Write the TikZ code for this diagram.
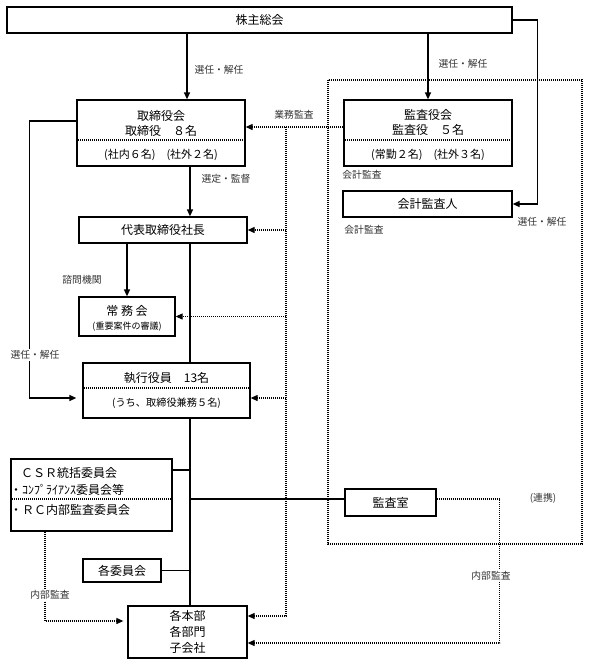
\documentclass[tikz,border=0pt]{standalone}
\usepackage{fontspec}
\setmainfont{Noto Sans CJK JP}
\usetikzlibrary{arrows.meta}

\begin{document}
\begin{tikzpicture}[x=1pt,y=-1pt,
  box/.style={draw,line width=1.3pt,inner sep=0pt,align=center,font=\fontsize{12}{16}\selectfont},
  txt/.style={inner sep=0pt,align=center,font=\fontsize{12}{15}\selectfont},
  small/.style={inner sep=0pt,font=\fontsize{11}{13}\selectfont},
  lab/.style={inner sep=1.5pt,fill=white,text=black!80,font=\fontsize{9.8}{11}\selectfont},
  link/.style={line width=1.3pt},
  sep/.style={line width=1.1pt,dash pattern=on 1.1pt off 0.9pt},
  >={Triangle[length=7pt,width=6pt]}]
 \useasboundingbox (0,0) rectangle (589,665);
 \coordinate (trunk) at (190,0);
 \coordinate (gyomu) at (286,127);

 % frame round the audit side
 \draw[sep] (328,80) rectangle (582,544);

 \node[box,minimum width=505pt,minimum height=26pt] (soukai) at (259.5,20) {株主総会};

 \node[box,minimum width=168pt,minimum height=66pt] (tori) at (161,133) {};
 \node[txt] (tori-t) at (161,123.5) {取締役会\\取締役　８名};
 \node[small] (tori-b) at (161,155) {(社内６名)　(社外２名)};
 \draw[sep] ([yshift=-7pt]tori.west) -- ([yshift=-7pt]tori.east);

 \node[box,minimum width=168pt,minimum height=66pt] (kansa) at (428,133) {};
 \node[txt] (kansa-t) at (428,122) {監査役会\\監査役　５名};
 \node[small] (kansa-b) at (428,155) {(常勤２名)　(社外３名)};
 \draw[sep] ([yshift=-7pt]kansa.west) -- ([yshift=-7pt]kansa.east);

 \node[box,minimum width=169pt,minimum height=26pt] (kaikei) at (427.5,204) {会計監査人};
 \node[box,minimum width=168pt,minimum height=26pt] (daihyo) at (163,230) {代表取締役社長};

 \node[box,minimum width=96pt,minimum height=39pt] (jomu) at (127,316.5) {};
 \node[txt] (jomu-t) at (127,311) {常 務 会};
 \node[inner sep=0pt,font=\fontsize{9}{10}\selectfont] (jomu-b) at (127,327) {(重要案件の審議)};

 \node[box,minimum width=167pt,minimum height=55pt] (shikko) at (166.5,390.5) {};
 \node[txt] (shikko-t) at (166.5,378.5) {執行役員　13名};
 \node[inner sep=0pt,font=\fontsize{10.2}{12}\selectfont] (shikko-b) at (166.5,403) {(うち、取締役兼務５名)};
 \draw[sep] ([yshift=2.5pt]shikko.west) -- ([yshift=2.5pt]shikko.east);

 \node[box,minimum width=161pt,minimum height=72pt] (csr) at (91.5,495) {};
 \node[txt,anchor=west] (csr-1) at (21,473) {ＣＳＲ統括委員会};
 \node[txt,anchor=west] (csr-2) at (10,490) {・ｺﾝﾌﾟﾗｲｱﾝｽ委員会等};
 \node[txt,anchor=west] (csr-3) at (10,510) {・ＲＣ内部監査委員会};
 \draw[sep] ([yshift=-4pt]csr.west) -- ([yshift=-4pt]csr.east);

 \node[box,minimum width=91pt,minimum height=27pt] (shitsu) at (390.5,502.5) {監査室};
 \node[box,minimum width=78pt,minimum height=23pt] (iinkai) at (122,570.5) {各委員会};
 \node[box,minimum width=119pt,minimum height=52pt] (honbu) at (187.5,632) {各本部\\各部門\\子会社};

 % solid lines
 \draw[link,->] (soukai.south -| 187,0) -- (tori.north -| 187,0);
 \draw[link,->] (soukai.south -| kansa.north) -- (kansa.north);
 \draw[link,->] (soukai.east) -- ++(25,0) |- (kaikei.east);
 \draw[link,->] (tori.south -| trunk) -- (daihyo.north -| trunk);
 \draw[link,->] (daihyo.south -| jomu.north) -- (jomu.north);
 \draw[link] (daihyo.south -| trunk) -- (shikko.north -| trunk);
 \draw[link] (shikko.south -| trunk) -- (honbu.north -| trunk);
 \draw[link,->,shorten >=6pt] ([yshift=12pt]tori.west) -- ++(-47,0) |- ([yshift=-7.5pt]shikko.west);
 \draw[link] ([yshift=25pt]csr.east) -- ([yshift=25pt]csr.east -| trunk);
 \draw[link] ([yshift=3.5pt]shitsu.west -| trunk) -- ([yshift=3.5pt]shitsu.west);
 \draw[link] (iinkai.east) -- (iinkai.east -| trunk);

 % dotted lines
 \draw[sep,->] (kansa.west |- gyomu) -- (tori.east |- gyomu);
 \draw[sep,->] (gyomu) |- ([yshift=16pt]honbu.east);
 \draw[sep,->] (gyomu |- daihyo.east) -- (daihyo.east);
 \draw[sep,->] (gyomu |- jomu.east) -- (jomu.east);
 \draw[sep,->] (gyomu |- 0,398) -- ([yshift=-7.5pt]shikko.east);
 \draw[sep,->] ([yshift=3.5pt]shitsu.east) -- ++(63,0) |- ([yshift=-11pt]honbu.east);
 \draw[sep,->,shorten >=4pt] ([xshift=-46.5pt]csr.south) |- ([yshift=11pt]honbu.west);

 % labels
 \node[lab] (l1) at (219,70) {選任・解任};
 \node[lab] (l2) at (463,64) {選任・解任};
 \node[lab] (l3) at (294,115) {業務監査};
 \node[lab] (l4) at (226,179) {選定・監督};
 \node[lab] (l5) at (82,280) {諮問機関};
 \node[lab] (l6) at (35,355) {選任・解任};
 \node[lab] (l7) at (362,175) {会計監査};
 \node[lab] (l8) at (364,230) {会計監査};
 \node[lab] (l9) at (542,222) {選任・解任};
 \node[lab] (l10) at (50,595) {内部監査};
 \node[lab] (l11) at (491,576) {内部監査};
 \node[lab] (l12) at (543,498) {(連携)};
\end{tikzpicture}
\end{document}
